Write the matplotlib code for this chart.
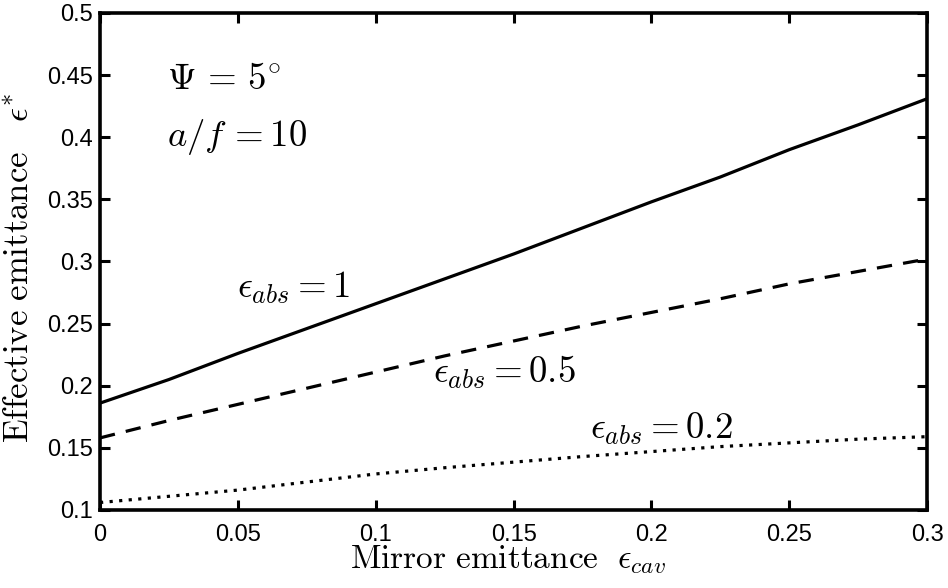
import matplotlib
matplotlib.use("Agg")
import matplotlib.pyplot as plt

plt.rcParams['mathtext.fontset'] = 'cm'
plt.rcParams['font.family'] = ['Liberation Sans', 'DejaVu Sans']

# Data
x_cav = [0.0, 0.025, 0.05, 0.075, 0.1, 0.125, 0.15, 0.175, 0.2, 0.225, 0.25, 0.275, 0.3]
eps_abs_1 = [0.186, 0.205, 0.226, 0.246, 0.266, 0.286, 0.306, 0.327, 0.348, 0.368, 0.390, 0.410, 0.431]
eps_abs_05 = [0.158, 0.172, 0.185, 0.198, 0.211, 0.224, 0.236, 0.248, 0.259, 0.270, 0.282, 0.292, 0.302]
eps_abs_02 = [0.106, 0.111, 0.116, 0.1225, 0.129, 0.134, 0.1385, 0.143, 0.147, 0.151, 0.154, 0.157, 0.159]

xticks = [0, 0.05, 0.1, 0.15, 0.2, 0.25, 0.3]
xticklabels = ['0', '0.05', '0.1', '0.15', '0.2', '0.25', '0.3']
yticks = [0.1, 0.15, 0.2, 0.25, 0.3, 0.35, 0.4, 0.45, 0.5]
yticklabels = ['0.1', '0.15', '0.2', '0.25', '0.3', '0.35', '0.4', '0.45', '0.5']

fig = plt.figure(figsize=(9.48, 5.88), dpi=100)
ax = fig.add_axes([0.1055, 0.1327, 0.8725, 0.8452])

lw = 2.3
ax.plot(x_cav, eps_abs_1, color='black', lw=lw, solid_capstyle='butt')
ax.plot(x_cav, eps_abs_05, color='black', lw=lw, dashes=(4.8, 3.5), dash_capstyle='butt')
ax.plot(x_cav, eps_abs_02, color='black', lw=lw, dashes=(1.0, 2.0), dash_capstyle='butt')

ax.set_xlim(0, 0.3)
ax.set_ylim(0.1, 0.5)
ax.set_xticks(xticks)
ax.set_xticklabels(xticklabels)
ax.set_yticks(yticks)
ax.set_yticklabels(yticklabels)

for s in ax.spines.values():
    s.set_linewidth(2.6)
ax.tick_params(direction='in', length=7, width=2.2, top=True, right=True,
               labelsize=17)
ax.tick_params(axis='x', pad=10)
ax.tick_params(axis='y', pad=5)

ax.set_xlabel(r'$\mathrm{Mirror\ emittance}\ \ \epsilon_{cav}$', fontsize=24)
ax.xaxis.set_label_coords(0.493, -0.068)
ax.set_ylabel(r'$\mathrm{Effective\ emittance}\ \ \ \epsilon^{*}$', fontsize=25)
ax.yaxis.set_label_coords(-0.079, 0.488)

fs = 26.5
ax.text(0.0243, 0.4387, r'$\Psi\,=\,5^{\circ}$', fontsize=fs, va='baseline', ha='left')
ax.text(0.0243, 0.3927, r'$a/f\,=10$', fontsize=fs, va='baseline', ha='left')
ax.text(0.0497, 0.271, r'$\epsilon_{abs}=1$', fontsize=fs, va='baseline', ha='left')
ax.text(0.1208, 0.2024, r'$\epsilon_{abs}=0.5$', fontsize=fs, va='baseline', ha='left')
ax.text(0.1777, 0.1573, r'$\epsilon_{abs}=0.2$', fontsize=fs, va='baseline', ha='left')

fig.savefig('out.png', dpi=100)
